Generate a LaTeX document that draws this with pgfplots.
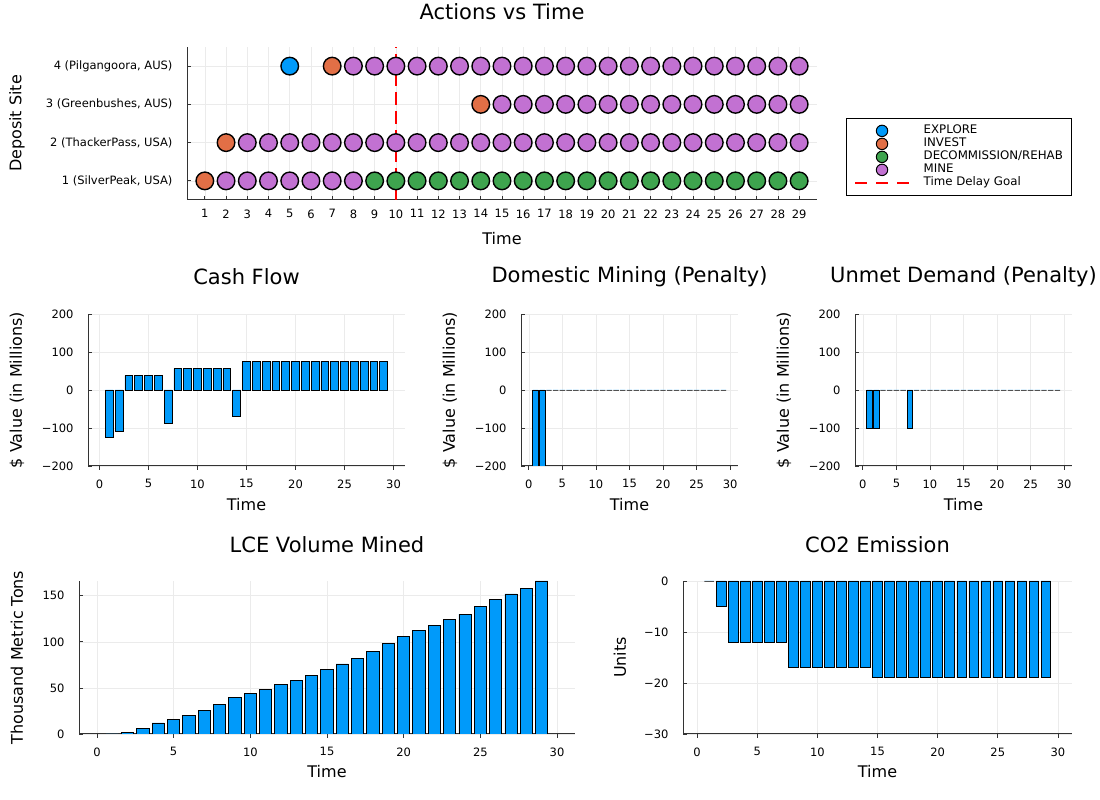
\documentclass[border=0pt]{standalone}
\usepackage{fontspec}
\setmainfont{DejaVu Sans}
\usepackage{pgfplots}
\pgfplotsset{compat=1.18}
\definecolor{c1}{HTML}{009AFA}
\definecolor{c2}{HTML}{E26F46}
\definecolor{c3}{HTML}{3EA44E}
\definecolor{c4}{HTML}{C271D2}
\definecolor{gridc}{HTML}{EBEBEB}
\definecolor{axc}{HTML}{333333}
\definecolor{goalred}{HTML}{FF0000}
\pgfplotsset{
  base/.style={
    scale only axis,
    anchor=south west,
    axis lines*=left,
    axis line style={line width=1pt, axc},
    tick align=inside,
    major tick length=4pt,
    tick style={line width=0.8pt, axc},
    grid=major,
    major grid style={line width=0.6pt, gridc},
    tick label style={font=\fontsize{11.5}{13}\selectfont},
    label style={font=\fontsize{16}{19}\selectfont},
    title style={font=\fontsize{21}{24}\selectfont, at={(0.5,1)}, anchor=center},
    every axis title shift=0pt,
    /pgf/number format/assume math mode=true,
    xticklabel style={yshift=-6pt},
    yticklabel style={xshift=-11pt},
  },
  barax/.style={base, ybar, bar width=0.8, bar shift=0pt, xmin=-1.17, xmax=31.17,
    xtick={0,5,...,30}},
  barplot/.style={fill=c1, draw=black, line width=0.8pt},
  dotA/.style={only marks, mark=*, mark size=8.8pt, mark options={fill=c1, draw=black, line width=1.4pt},
    legend image code/.code={\draw[mark=*, mark size=5.7pt, mark options={fill=c1, draw=black, line width=1pt}] plot coordinates {(27pt,0pt)};}},
  dotB/.style={only marks, mark=*, mark size=8.8pt, mark options={fill=c2, draw=black, line width=1.4pt},
    legend image code/.code={\draw[mark=*, mark size=5.7pt, mark options={fill=c2, draw=black, line width=1pt}] plot coordinates {(27pt,0pt)};}},
  dotC/.style={only marks, mark=*, mark size=8.8pt, mark options={fill=c3, draw=black, line width=1.4pt},
    legend image code/.code={\draw[mark=*, mark size=5.7pt, mark options={fill=c3, draw=black, line width=1pt}] plot coordinates {(27pt,0pt)};}},
  dotD/.style={only marks, mark=*, mark size=8.8pt, mark options={fill=c4, draw=black, line width=1.4pt},
    legend image code/.code={\draw[mark=*, mark size=5.7pt, mark options={fill=c4, draw=black, line width=1pt}] plot coordinates {(27pt,0pt)};}},
}
\begin{document}
\begin{tikzpicture}
\path[use as bounding box, fill=white] (0,0) rectangle (1100pt,800pt);

% ---------------- Actions vs Time ----------------
\begin{axis}[base, at={(187pt,600pt)}, width=630pt, height=153pt,
  xmin=0.16, xmax=29.84, ymin=0.5, ymax=4.5,
  xtick={1,...,29}, ytick={1,2,3,4},
  yticklabels={{1 (SilverPeak, USA)},{2 (ThackerPass, USA)},{3 (Greenbushes, AUS)},{4 (Pilgangoora, AUS)}},
  title={Actions vs Time}, title style={yshift=35pt},
  xlabel={Time}, ylabel={Deposit Site},
  xlabel style={at={(axis description cs:0.5,-0.255)}, anchor=center},
  ylabel style={at={(axis description cs:-0.2698,0.5)}, anchor=center},
  legend style={at={(axis description cs:1.046,0.536)}, anchor=north west,
    draw=black, line width=0.8pt, inner xsep=8pt, inner ysep=6pt,
    font=\fontsize{11.8}{13}\selectfont,
    nodes={inner sep=1pt, text height=8.5pt, text depth=2.5pt},
    /tikz/every odd column/.append style={column sep=13pt}},
  legend cell align=left,
  clip=false,
]
\addplot[dotA] coordinates {(5,4)};
\addlegendentry{EXPLORE}
\addplot[dotB] coordinates {(1,1) (2,2) (14,3) (7,4)};
\addlegendentry{INVEST}
\addplot[dotC] coordinates {
(9,1) (10,1) (11,1) (12,1) (13,1) (14,1) (15,1) (16,1) (17,1) (18,1) (19,1)
(20,1) (21,1) (22,1) (23,1) (24,1) (25,1) (26,1) (27,1) (28,1) (29,1)};
\addlegendentry{DECOMMISSION/REHAB}
\addplot[dotD] coordinates {
(2,1) (3,1) (4,1) (5,1) (6,1) (7,1) (8,1)
(3,2) (4,2) (5,2) (6,2) (7,2) (8,2) (9,2) (10,2) (11,2) (12,2) (13,2) (14,2) (15,2) (16,2)
(17,2) (18,2) (19,2) (20,2) (21,2) (22,2) (23,2) (24,2) (25,2) (26,2) (27,2) (28,2) (29,2)
(15,3) (16,3) (17,3) (18,3) (19,3) (20,3) (21,3) (22,3) (23,3) (24,3) (25,3) (26,3) (27,3) (28,3) (29,3)
(8,4) (9,4) (10,4) (11,4) (12,4) (13,4) (14,4) (15,4) (16,4) (17,4) (18,4) (19,4) (20,4) (21,4)
(22,4) (23,4) (24,4) (25,4) (26,4) (27,4) (28,4) (29,4)};
\addlegendentry{MINE}
\addplot[draw=goalred, color=goalred, line width=1.3pt, dash pattern=on 13pt off 6pt,
  legend image code/.code={\draw[draw=goalred, line width=1.3pt, dash pattern=on 12pt off 9pt] (0pt,0pt) -- (54pt,0pt);}]
  coordinates {(10,0.5) (10,4.5)};
\addlegendentry{Time Delay Goal}
\end{axis}

% ---------------- Cash Flow ----------------
\begin{axis}[barax, at={(88pt,334pt)}, width=317pt, height=152pt,
  ymin=-200, ymax=200, ytick={-200,-100,0,100,200},
  yticklabels={−200,−100,0,100,200},
  title={Cash Flow}, title style={yshift=37pt},
  xlabel={Time}, ylabel={\$ Value (in Millions)},
  xlabel style={at={(axis description cs:0.5,-0.2566)}, anchor=center},
  ylabel style={at={(axis description cs:-0.224,0.5)}, anchor=center},
]
\addplot[barplot] coordinates {
(1,-125) (2,-108) (3,38) (4,38) (5,38) (6,38) (7,-89) (8,56) (9,56) (10,56)
(11,56) (12,56) (13,56) (14,-70) (15,75) (16,75) (17,75) (18,75) (19,75) (20,75)
(21,75) (22,75) (23,75) (24,75) (25,75) (26,75) (27,75) (28,75) (29,75)};
\end{axis}

% ---------------- Domestic Mining ----------------
\begin{axis}[barax, at={(521pt,334pt)}, width=217pt, height=152pt,
  ymin=-200, ymax=200, ytick={-200,-100,0,100,200},
  yticklabels={−200,−100,0,100,200},
  title={Domestic Mining (Penalty)}, title style={yshift=37pt},
  xlabel={Time}, ylabel={\$ Value (in Millions)},
  xlabel style={at={(axis description cs:0.5,-0.2566)}, anchor=center},
  ylabel style={at={(axis description cs:-0.327,0.5)}, anchor=center},
]
\addplot[barplot] coordinates {
(1,-200) (2,-200) (3,0) (4,0) (5,0) (6,0) (7,0) (8,0) (9,0) (10,0)
(11,0) (12,0) (13,0) (14,0) (15,0) (16,0) (17,0) (18,0) (19,0) (20,0)
(21,0) (22,0) (23,0) (24,0) (25,0) (26,0) (27,0) (28,0) (29,0)};
\end{axis}

% ---------------- Unmet Demand ----------------
\begin{axis}[barax, at={(855pt,334pt)}, width=217pt, height=152pt,
  ymin=-200, ymax=200, ytick={-200,-100,0,100,200},
  yticklabels={−200,−100,0,100,200},
  title={Unmet Demand (Penalty)}, title style={yshift=37pt},
  xlabel={Time}, ylabel={\$ Value (in Millions)},
  xlabel style={at={(axis description cs:0.5,-0.2566)}, anchor=center},
  ylabel style={at={(axis description cs:-0.327,0.5)}, anchor=center},
]
\addplot[barplot] coordinates {
(1,-100) (2,-100) (3,0) (4,0) (5,0) (6,0) (7,-100) (8,0) (9,0) (10,0)
(11,0) (12,0) (13,0) (14,0) (15,0) (16,0) (17,0) (18,0) (19,0) (20,0)
(21,0) (22,0) (23,0) (24,0) (25,0) (26,0) (27,0) (28,0) (29,0)};
\end{axis}

% ---------------- LCE Volume Mined ----------------
\begin{axis}[barax, at={(79pt,66pt)}, width=496pt, height=153pt,
  ymin=0, ymax=166, ytick={0,50,100,150},
  title={LCE Volume Mined}, title style={yshift=36pt},
  xlabel={Time}, ylabel={Thousand Metric Tons},
  xlabel style={at={(axis description cs:0.5,-0.248)}, anchor=center},
  ylabel style={at={(axis description cs:-0.125,0.5)}, anchor=center},
]
\addplot[barplot] coordinates {
(1,0) (2,2) (3,6) (4,12) (5,16) (6,20) (7,26) (8,32) (9,40) (10,44)
(11,48) (12,54) (13,58) (14,64) (15,70) (16,76) (17,82) (18,90) (19,98) (20,106)
(21,112) (22,118) (23,124) (24,130) (25,138) (26,146) (27,152) (28,158) (29,166)};
\end{axis}

% ---------------- CO2 Emission ----------------
\begin{axis}[barax, at={(683pt,66pt)}, width=389pt, height=153pt,
  ymin=-30, ymax=0, ytick={-30,-20,-10,0},
  yticklabels={−30,−20,−10,0},
  title={CO2 Emission}, title style={yshift=36pt},
  xlabel={Time}, ylabel={Units},
  xlabel style={at={(axis description cs:0.5,-0.248)}, anchor=center},
  ylabel style={at={(axis description cs:-0.162,0.5)}, anchor=center},
]
\addplot[barplot] coordinates {
(1,0) (2,-5) (3,-12) (4,-12) (5,-12) (6,-12) (7,-12) (8,-17) (9,-17) (10,-17)
(11,-17) (12,-17) (13,-17) (14,-17) (15,-19) (16,-19) (17,-19) (18,-19) (19,-19) (20,-19)
(21,-19) (22,-19) (23,-19) (24,-19) (25,-19) (26,-19) (27,-19) (28,-19) (29,-19)};
\end{axis}
\end{tikzpicture}
\end{document}
